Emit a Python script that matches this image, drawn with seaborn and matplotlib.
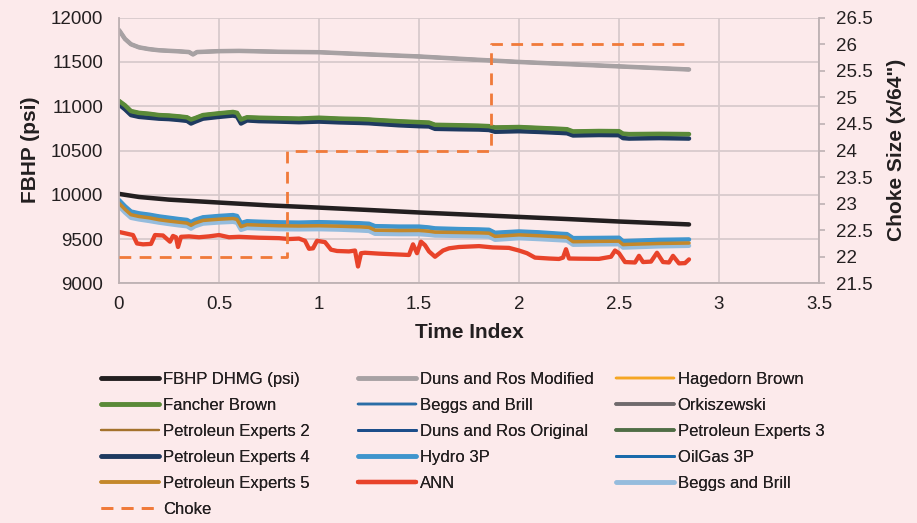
import numpy as np
import pandas as pd
import matplotlib
matplotlib.use("Agg")
import matplotlib.pyplot as plt
import seaborn as sns
from matplotlib.lines import Line2D

# ---------------- data ----------------
T_MODEL = [0.00, 0.03, 0.06, 0.10, 0.15, 0.20, 0.25, 0.30, 0.34, 0.36, 0.38, 0.42, 0.50, 0.57,
           0.59, 0.61, 0.64, 0.70, 0.80, 0.90, 1.00, 1.10, 1.20, 1.25, 1.28, 1.40, 1.50, 1.55,
           1.58, 1.70, 1.80, 1.85, 1.88, 2.00, 2.10, 2.20, 2.24, 2.27, 2.40, 2.50, 2.52, 2.55,
           2.70, 2.85]

FANCHER_BROWN = [11060, 11010, 10945, 10925, 10915, 10900, 10895, 10885, 10875, 10850, 10865,
                 10900, 10920, 10935, 10925, 10850, 10875, 10870, 10865, 10860, 10870, 10860,
                 10855, 10850, 10845, 10830, 10820, 10815, 10790, 10785, 10780, 10775, 10760,
                 10765, 10755, 10745, 10740, 10715, 10720, 10718, 10690, 10685, 10688, 10685]
PE4 = [11020, 10965, 10900, 10880, 10870, 10860, 10855, 10845, 10835, 10805, 10825, 10860,
       10880, 10895, 10885, 10805, 10840, 10832, 10827, 10820, 10827, 10818, 10812, 10808,
       10803, 10785, 10775, 10772, 10745, 10740, 10737, 10732, 10712, 10718, 10710, 10700,
       10695, 10670, 10675, 10673, 10640, 10635, 10640, 10635]
HYDRO_3P = [9940, 9870, 9810, 9790, 9775, 9755, 9740, 9725, 9715, 9690, 9715, 9745, 9760, 9770,
            9760, 9680, 9700, 9695, 9688, 9685, 9690, 9685, 9678, 9672, 9645, 9640, 9640, 9630,
            9620, 9612, 9608, 9604, 9570, 9585, 9575, 9560, 9555, 9510, 9512, 9514, 9475, 9478,
            9490, 9495]
PE5 = [9905, 9835, 9775, 9755, 9740, 9718, 9703, 9690, 9680, 9655, 9680, 9710, 9724, 9732, 9722,
       9640, 9662, 9657, 9650, 9647, 9650, 9645, 9638, 9632, 9600, 9596, 9597, 9588, 9578, 9574,
       9570, 9566, 9530, 9547, 9537, 9525, 9520, 9470, 9474, 9476, 9437, 9440, 9450, 9455]
BEGGS_BRILL_2 = [9870, 9800, 9740, 9722, 9705, 9686, 9670, 9655, 9645, 9618, 9645, 9675, 9688,
                 9695, 9685, 9604, 9625, 9620, 9612, 9610, 9612, 9607, 9598, 9592, 9560, 9556,
                 9556, 9548, 9540, 9536, 9532, 9528, 9492, 9510, 9500, 9488, 9483, 9436, 9440,
                 9442, 9404, 9406, 9418, 9424]
# curves hidden underneath the visible ones (they coincide in the picture)
HAGEDORN_BROWN = PE5
PE2 = PE5
BEGGS_BRILL = HYDRO_3P
OILGAS_3P = HYDRO_3P
PE3 = FANCHER_BROWN
DUNS_ROS_ORIGINAL = PE4

T_DRM = [0, 0.03, 0.06, 0.1, 0.15, 0.2, 0.3, 0.35, 0.37, 0.39, 0.5, 0.6, 0.7, 0.8, 1.0, 1.2,
         1.5, 1.75, 2.0, 2.25, 2.5, 2.85]
DUNS_ROS_MODIFIED = [11860, 11760, 11700, 11665, 11645, 11632, 11620, 11612, 11585, 11612,
                     11622, 11625, 11620, 11615, 11610, 11590, 11562, 11530, 11500, 11475,
                     11450, 11415]
ORKISZEWSKI = DUNS_ROS_MODIFIED

T_DHMG = [0, 0.1, 0.25, 0.5, 0.75, 1.0, 1.25, 1.5, 1.75, 2.0, 2.25, 2.5, 2.85]
FBHP_DHMG = [10010, 9975, 9945, 9912, 9880, 9855, 9828, 9800, 9775, 9750, 9725, 9698, 9665]

T_ANN = [0, 0.04, 0.07, 0.09, 0.12, 0.16, 0.18, 0.22, 0.24, 0.255, 0.27, 0.285, 0.295, 0.31,
         0.35, 0.4, 0.45, 0.5, 0.55, 0.6, 0.7, 0.8, 0.85, 0.9, 0.93, 0.95, 0.97, 0.99, 1.03,
         1.06, 1.09, 1.15, 1.18, 1.195, 1.21, 1.23, 1.3, 1.4, 1.45, 1.47, 1.49, 1.51, 1.53,
         1.55, 1.58, 1.62, 1.65, 1.7, 1.8, 1.87, 1.95, 2.0, 2.04, 2.08, 2.15, 2.2, 2.22, 2.235,
         2.25, 2.3, 2.4, 2.46, 2.48, 2.5, 2.53, 2.58, 2.6, 2.62, 2.66, 2.69, 2.72, 2.75, 2.77,
         2.8, 2.83, 2.85]
ANN = [9580, 9560, 9545, 9450, 9440, 9445, 9545, 9540, 9500, 9470, 9535, 9520, 9410, 9525,
       9530, 9520, 9530, 9545, 9520, 9525, 9515, 9510, 9500, 9505, 9480, 9390, 9395, 9480,
       9465, 9380, 9365, 9360, 9370, 9190, 9340, 9345, 9335, 9325, 9320, 9440, 9340, 9470,
       9430, 9360, 9300, 9370, 9395, 9410, 9420, 9405, 9400, 9370, 9340, 9290, 9280, 9275,
       9290, 9385, 9280, 9278, 9276, 9300, 9370, 9340, 9240, 9235, 9310, 9240, 9245, 9345,
       9240, 9235, 9310, 9225, 9228, 9270]

T_CHOKE = [0, 0.84, 1.86, 2.85]
CHOKE = [22, 24, 26, 26]

X_TICKS = [0, 0.5, 1, 1.5, 2, 2.5, 3, 3.5]
Y_TICKS = [9000, 9500, 10000, 10500, 11000, 11500, 12000]
Y2_TICKS = [21.5, 22, 22.5, 23, 23.5, 24, 24.5, 25, 25.5, 26, 26.5]

# ---------------- style ----------------
sns.set_theme(style="white")
plt.rcParams['font.family'] = ['Liberation Sans', 'DejaVu Sans']
BG = '#FCEAEB'
GRID = '#D8CACC'
SPINE = '#BDB1B3'
TXT = '#231F20'
PX = 0.72  # points per pixel at dpi 100

# label, x, y, color, width(px)
series = [
    ("FBHP DHMG (psi)", T_DHMG, FBHP_DHMG, '#231F20', 4.5),
    ("Duns and Ros Modified", T_DRM, DUNS_ROS_MODIFIED, '#A7A1A3', 4.5),
    ("Hagedorn Brown", T_MODEL, HAGEDORN_BROWN, '#F5A623', 2.5),
    ("Fancher Brown", T_MODEL, FANCHER_BROWN, '#5A8A38', 4.5),
    ("Beggs and Brill", T_MODEL, BEGGS_BRILL, '#2A6DA6', 2.5),
    ("Orkiszewski", T_DRM, ORKISZEWSKI, '#6F6A6C', 3.5),
    ("Petroleun Experts 2", T_MODEL, PE2, '#A4722C', 2.2),
    ("Duns and Ros Original", T_MODEL, DUNS_ROS_ORIGINAL, '#1C4E8A', 3.0),
    ("Petroleun Experts 3", T_MODEL, PE3, '#4F6D45', 3.5),
    ("Petroleun Experts 4", T_MODEL, PE4, '#1E3A60', 4.5),
    ("Hydro 3P", T_MODEL, HYDRO_3P, '#3F95CD', 4.5),
    ("OilGas 3P", T_MODEL, OILGAS_3P, '#1A6AAA', 3.0),
    ("Petroleun Experts 5", T_MODEL, PE5, '#C4882A', 3.5),
    ("ANN", T_ANN, ANN, '#E8432A', 4.3),
    ("Beggs and Brill", T_MODEL, BEGGS_BRILL_2, '#95BCDD', 4.5),
]
CHOKE_COLOR = '#F07A3A'

# drawing order (hidden curves first, visible ones on top)
draw_order = [2, 4, 5, 6, 7, 8, 11, 1, 9, 3, 14, 10, 12, 0, 13]

fig = plt.figure(figsize=(9.17, 5.23), dpi=100, facecolor=BG)
ax = fig.add_axes([119 / 917, 1 - 283.3 / 523, 700 / 917, (283.3 - 17.7) / 523])
ax.set_facecolor(BG)

for i in draw_order:
    lab, x, y, c, w = series[i]
    sns.lineplot(x=x, y=y, ax=ax, color=c, linewidth=w * PX, legend=False,
                 solid_capstyle='round', solid_joinstyle='round')

ax.set_xlim(0, 3.5)
ax.set_ylim(9000, 12000)
ax.set_xticks(X_TICKS)
ax.set_xticklabels([f"{v:g}" for v in X_TICKS])
ax.set_yticks(Y_TICKS)
ax.set_yticklabels([str(v) for v in Y_TICKS])
ax.grid(True, color=GRID, linewidth=1.3)
ax.set_axisbelow(True)
ax.tick_params(axis='both', length=0, labelsize=13.5, labelcolor=TXT)
ax.tick_params(axis='y', pad=11.5)
ax.tick_params(axis='x', pad=9)
for s in ['top', 'right']:
    ax.spines[s].set_visible(False)
for s in ['left', 'bottom']:
    ax.spines[s].set_color(SPINE)
    ax.spines[s].set_linewidth(1.3)
ax.set_xlabel("")
ax.set_ylabel("")

ax2 = ax.twinx()
sns.lineplot(x=T_CHOKE, y=CHOKE, ax=ax2, color=CHOKE_COLOR, linewidth=2.8 * PX,
             drawstyle='steps-post', linestyle=(0, (4.2, 3.0)), legend=False)
ax2.set_ylim(21.5, 26.5)
ax2.set_yticks(Y2_TICKS)
ax2.set_yticklabels([f"{v:g}" for v in Y2_TICKS])
ax2.set_ylabel("")
ax2.tick_params(axis='y', direction='out', length=4, width=1.2, color=SPINE,
                labelsize=13.5, labelcolor=TXT, pad=8)
for s in ['top', 'left', 'bottom']:
    ax2.spines[s].set_visible(False)
ax2.spines['right'].set_color(SPINE)
ax2.spines['right'].set_linewidth(1.3)

fig.text(30 / 917, 1 - 150 / 523, "FBHP (psi)", rotation=90, ha='center', va='center',
         fontsize=15, fontweight='bold', color=TXT)
fig.text(897 / 917, 1 - 150 / 523, 'Choke Size (x/64")', rotation=90, ha='center',
         va='center', fontsize=15, fontweight='bold', color=TXT)
fig.text(469 / 917, 1 - 333 / 523, "Time Index", ha='center', va='center',
         fontsize=15, fontweight='bold', color=TXT)

# legend (row-major as in the reference, three fixed-width columns)
handles = []
for lab, x, y, c, w in series:
    handles.append(Line2D([], [], color=c, linewidth=w * PX, solid_capstyle='round'))
handles.append(Line2D([], [], color=CHOKE_COLOR, linewidth=2.8 * PX, linestyle=(0, (4.2, 3.0))))
labels = [s[0] for s in series] + ["Choke"]

col_x = [101 / 917, 358 / 917, 616 / 917]
top_y = 1 - 372 / 523
for c in range(3):
    idx = list(range(c, len(labels), 3))
    leg = fig.legend([handles[i] for i in idx], [labels[i] for i in idx],
                     loc='upper left', bbox_to_anchor=(col_x[c], top_y),
                     bbox_transform=fig.transFigure, frameon=False, fontsize=12,
                     handlelength=3.45, handletextpad=0.25, labelspacing=0.66,
                     borderpad=0, borderaxespad=0, labelcolor=TXT)
    fig.add_artist(leg)

fig.savefig("out.png", dpi=100, facecolor=BG)
